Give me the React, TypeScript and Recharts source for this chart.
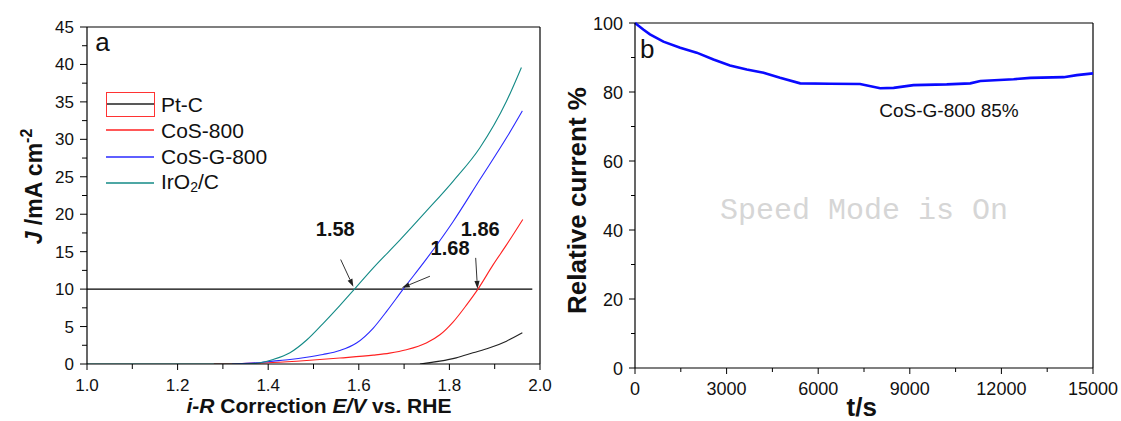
import React from "react";
import { LineChart, Line, XAxis, YAxis, ReferenceLine, ReferenceDot, Legend } from "recharts";

// panel a: LSV curves, potential (V vs RHE) and current density (mA cm-2)
const ptcE = [1.735, 1.779, 1.815, 1.852, 1.889, 1.926, 1.961];
const ptcJ = [0, 0.38, 0.82, 1.49, 2.16, 3.05, 4.16];

const cos800E = [1.28, 1.34, 1.41, 1.485, 1.558, 1.632, 1.668, 1.705, 1.749, 1.779, 1.808, 1.838, 1.863, 1.896, 1.926, 1.962];
const cos800J = [0.02, 0.06, 0.2, 0.47, 0.8, 1.18, 1.45, 1.9, 2.8, 3.9, 5.6, 7.9, 10.0, 13.2, 15.9, 19.3];

const cosG800E = [1.32, 1.374, 1.411, 1.448, 1.485, 1.521, 1.558, 1.595, 1.632, 1.661, 1.698, 1.749, 1.808, 1.867, 1.926, 1.961];
const cosG800J = [0, 0.16, 0.38, 0.6, 0.9, 1.27, 1.8, 2.8, 4.8, 7.0, 10.0, 14.0, 19.0, 24.6, 30.2, 33.8];

const iroE = [1.0, 1.35, 1.382, 1.411, 1.448, 1.485, 1.521, 1.558, 1.591, 1.632, 1.69, 1.749, 1.808, 1.867, 1.926, 1.959];
const iroJ = [0, 0, 0.16, 0.6, 1.5, 3.2, 5.4, 7.8, 10.04, 12.84, 16.5, 20.4, 24.4, 28.85, 35.08, 39.6];

const seriesNames = ["Pt-C", "CoS-800", "CoS-G-800", "IrO2/C"];

// onset markers at 10 mA cm-2
const markerText = ["1.58", "1.68", "1.86"];
const markerTextE = [1.548, 1.8015, 1.868];
const markerTextJ = [17.15, 14.61, 17.15];
const arrowFromE = [1.56, 1.757, 1.858];
const arrowFromJ = [13.95, 11.72, 14.17];
const arrowToE = [1.588, 1.695, 1.862];
const arrowToJ = [10.3, 10.17, 10.04];
const refJ = 10;
const refEndE = 1.983;

const lsvTicksE = [1.0, 1.1, 1.2, 1.3, 1.4, 1.5, 1.6, 1.7, 1.8, 1.9, 2.0];
const lsvTicksJ = [0, 2.5, 5, 7.5, 10, 12.5, 15, 17.5, 20, 22.5, 25, 27.5, 30, 32.5, 35, 37.5, 40, 42.5, 45];

// panel b: chronoamperometry
const timeS = [0, 270, 490, 930, 1480, 2020, 2570, 3110, 3660, 4210, 4750, 5410, 6390, 7370, 8030, 8470, 9120, 10210, 10980, 11310, 12400, 12950, 14040, 14470, 15000];
const relCurrent = [100, 98.1, 96.7, 94.6, 92.8, 91.4, 89.4, 87.7, 86.5, 85.6, 84.1, 82.5, 82.4, 82.3, 81.1, 81.2, 82.0, 82.2, 82.5, 83.2, 83.7, 84.1, 84.3, 84.9, 85.4];

const stabTicksT = [0, 1500, 3000, 4500, 6000, 7500, 9000, 10500, 12000, 13500, 15000];
const stabTicksR = [0, 10, 20, 30, 40, 50, 60, 70, 80, 90, 100];

const toPoints = (e: number[], j: number[]) => e.map((v, i) => ({ e: v, j: j[i] }));
const stabData = timeS.map((t, i) => ({ t, r: relCurrent[i] }));

const TXT = "#111";

const LsvXTick = (p: any) => {
  const v = p.payload.value;
  const major = Math.round(v * 10) % 2 === 0;
  return (
    <g>
      <line x1={p.x} y1={p.y} x2={p.x} y2={p.y + (major ? 6 : 5)} stroke="#000" />
      {major && (
        <text x={p.x} y={p.y + 27} textAnchor="middle" fontSize={17} fill={TXT}>
          {v.toFixed(1)}
        </text>
      )}
    </g>
  );
};

const LsvYTick = (p: any) => {
  const v = p.payload.value;
  const major = v % 5 === 0;
  return (
    <g>
      <line x1={p.x} y1={p.y} x2={p.x - (major ? 7 : 5)} y2={p.y} stroke="#000" />
      {major && (
        <text x={p.x - 13} y={p.y + 6} textAnchor="end" fontSize={17} fill={TXT}>
          {v}
        </text>
      )}
    </g>
  );
};

const StabXTick = (p: any) => {
  const v = p.payload.value;
  const major = v % 3000 === 0;
  return (
    <g>
      <line x1={p.x} y1={p.y} x2={p.x} y2={p.y + (major ? 6 : 4)} stroke="#000" />
      {major && (
        <text x={p.x} y={p.y + 26.5} textAnchor="middle" fontSize={18} fill={TXT}>
          {v}
        </text>
      )}
    </g>
  );
};

const StabYTick = (p: any) => {
  const v = p.payload.value;
  const major = v % 20 === 0;
  return (
    <g>
      <line x1={p.x} y1={p.y} x2={p.x - (major ? 6 : 4)} y2={p.y} stroke="#000" />
      {major && (
        <text x={p.x - 12} y={p.y + 6.5} textAnchor="end" fontSize={18} fill={TXT}>
          {v}
        </text>
      )}
    </g>
  );
};

const Arrow = (p: any) => {
  const { x1, y1, x2, y2 } = p;
  const a = Math.atan2(y2 - y1, x2 - x1);
  const len = 8;
  const w = 2.6;
  const bx = x2 - len * Math.cos(a);
  const by = y2 - len * Math.sin(a);
  const px = -Math.sin(a) * w;
  const py = Math.cos(a) * w;
  return (
    <g>
      <line x1={x1} y1={y1} x2={bx} y2={by} stroke="#333" strokeWidth={1} />
      <polygon points={`${x2},${y2} ${bx + px},${by + py} ${bx - px},${by - py}`} fill="#222" />
    </g>
  );
};

const legendName = (name: string) =>
  name === "IrO2/C" ? (
    <>
      IrO<sub style={{ fontSize: 14, verticalAlign: "-3px" }}>2</sub>/C
    </>
  ) : (
    name
  );

const LsvLegend = (props: any) => {
  const items = [...(props.payload || [])].sort(
    (a: any, b: any) => seriesNames.indexOf(a.value) - seriesNames.indexOf(b.value)
  );
  return (
    <div style={{ position: "relative", fontSize: 21, color: TXT, fontFamily: '"Liberation Sans", Arial, sans-serif' }}>
      {items.map((entry: any) => (
        <div key={entry.value} style={{ display: "flex", alignItems: "center", height: 26.3 }}>
          <svg width={48} height={4} style={{ display: "block" }}>
            <line x1={0} y1={2} x2={48} y2={2} stroke={entry.color} strokeWidth={1.6} />
          </svg>
          <span style={{ marginLeft: 7, lineHeight: 1, whiteSpace: "nowrap" }}>{legendName(entry.value)}</span>
        </div>
      ))}
      <div
        style={{
          position: "absolute",
          left: -0.5,
          top: 1.4,
          width: 49.4,
          height: 24.3,
          border: "1.5px solid #f33",
          boxSizing: "border-box",
        }}
      />
    </div>
  );
};

function PanelA() {
  return (
    <LineChart width={560} height={421} margin={{ top: 27, right: 20, left: 0, bottom: 0 }}>
      <XAxis
        dataKey="e"
        type="number"
        domain={[1, 2]}
        ticks={lsvTicksE}
        interval={0}
        height={57}
        tickSize={0}
        tickMargin={0}
        tickLine={false}
        axisLine={{ stroke: "#000", strokeWidth: 1.2 }}
        tick={(p: any) => <LsvXTick {...p} />}
        allowDataOverflow
        label={{
          content: (lp: any) => {
            const vb = lp.viewBox;
            return (
              <text x={vb.x + 232} y={vb.y + 49} textAnchor="middle" fontSize={21} fontWeight="bold" fill={TXT}>
                <tspan fontStyle="italic">i-R</tspan> Correction <tspan fontStyle="italic">E/V</tspan> vs. RHE
              </text>
            );
          },
        }}
      />
      <YAxis
        type="number"
        domain={[0, 45]}
        ticks={lsvTicksJ}
        interval={0}
        width={87}
        tickSize={0}
        tickMargin={0}
        tickLine={false}
        axisLine={{ stroke: "#000", strokeWidth: 1.2 }}
        tick={(p: any) => <LsvYTick {...p} />}
        allowDataOverflow
        label={{
          content: (lp: any) => {
            const vb = lp.viewBox;
            const cx = vb.x + 41.7;
            const cy = vb.y + vb.height / 2 - 9;
            return (
              <text
                x={cx}
                y={cy}
                transform={`rotate(-90 ${cx} ${cy})`}
                textAnchor="middle"
                fontSize={23}
                fontWeight="bold"
                fill={TXT}
              >
                <tspan fontStyle="italic">J</tspan> /mA cm
                <tspan fontSize={16} dy={-10}>-2</tspan>
              </text>
            );
          },
        }}
      />
      <ReferenceLine y={45} stroke="#000" strokeWidth={1.2} />
      <ReferenceLine x={2} stroke="#000" strokeWidth={1.2} />
      <ReferenceLine
        segment={[
          { x: 1, y: refJ },
          { x: refEndE, y: refJ },
        ]}
        stroke="#000"
        strokeWidth={1.2}
      />
      <Line data={toPoints(ptcE, ptcJ)} dataKey="j" name={seriesNames[0]} type="monotone" stroke="#222" strokeWidth={1.1} dot={false} isAnimationActive={false} />
      <Line data={toPoints(cos800E, cos800J)} dataKey="j" name={seriesNames[1]} type="monotone" stroke="#ff2020" strokeWidth={1.1} dot={false} isAnimationActive={false} />
      <Line data={toPoints(cosG800E, cosG800J)} dataKey="j" name={seriesNames[2]} type="monotone" stroke="#2a2aff" strokeWidth={1.1} dot={false} isAnimationActive={false} />
      <Line data={toPoints(iroE, iroJ)} dataKey="j" name={seriesNames[3]} type="monotone" stroke="#138a86" strokeWidth={1.1} dot={false} isAnimationActive={false} />
      {markerText.map((_, i) => (
        <ReferenceLine
          key={"arrow" + i}
          segment={[
            { x: arrowFromE[i], y: arrowFromJ[i] },
            { x: arrowToE[i], y: arrowToJ[i] },
          ]}
          shape={(p: any) => <Arrow {...p} />}
        />
      ))}
      {markerText.map((t, i) => (
        <ReferenceDot
          key={"lbl" + i}
          x={markerTextE[i]}
          y={markerTextJ[i]}
          r={0}
          shape={(p: any) => (
            <text x={p.cx} y={p.cy} textAnchor="middle" fontSize={20} fontWeight="bold" fill={TXT}>
              {t}
            </text>
          )}
        />
      ))}
      <ReferenceDot
        x={1}
        y={45}
        r={0}
        shape={(p: any) => (
          <text x={p.cx + 8.3} y={p.cy + 24.4} fontSize={26} fill={TXT}>
            a
          </text>
        )}
      />
      <Legend
        layout="vertical"
        align="center"
        verticalAlign="middle"
        content={(p: any) => <LsvLegend {...p} />}
        wrapperStyle={{ left: 106, top: 90.9, width: 220, height: "auto" }}
      />
    </LineChart>
  );
}

function PanelB() {
  return (
    <LineChart width={561} height={421} margin={{ top: 23, right: 28, left: 0, bottom: 0 }}>
      <XAxis
        dataKey="t"
        type="number"
        domain={[0, 15000]}
        ticks={stabTicksT}
        interval={0}
        height={53}
        tickSize={0}
        tickMargin={0}
        tickLine={false}
        axisLine={{ stroke: "#000", strokeWidth: 1.2 }}
        tick={(p: any) => <StabXTick {...p} />}
        label={{
          content: (lp: any) => {
            const vb = lp.viewBox;
            return (
              <text x={vb.x + 226.7} y={vb.y + 47.5} textAnchor="middle" fontSize={26} fontWeight="bold" fill={TXT}>
                t/s
              </text>
            );
          },
        }}
      />
      <YAxis
        type="number"
        domain={[0, 100]}
        ticks={stabTicksR}
        interval={0}
        width={75}
        tickSize={0}
        tickMargin={0}
        tickLine={false}
        axisLine={{ stroke: "#000", strokeWidth: 1.2 }}
        tick={(p: any) => <StabYTick {...p} />}
        label={{
          content: (lp: any) => {
            const vb = lp.viewBox;
            const cx = vb.x + 26.3;
            const cy = 200.5;
            return (
              <text
                x={cx}
                y={cy}
                transform={`rotate(-90 ${cx} ${cy})`}
                textAnchor="middle"
                fontSize={26}
                fontWeight="bold"
                fill={TXT}
              >
                Relative current %
              </text>
            );
          },
        }}
      />
      <ReferenceLine y={100} stroke="#000" strokeWidth={1.2} />
      <ReferenceLine x={15000} stroke="#000" strokeWidth={1.2} />
      <ReferenceDot
        x={7500}
        y={43.2}
        r={0}
        shape={(p: any) => (
          <text
            x={p.cx}
            y={p.cy}
            textAnchor="middle"
            fontSize={30}
            fill="#d6d6d6"
            fontFamily='"Liberation Mono", "Courier New", monospace'
          >
            Speed Mode is On
          </text>
        )}
      />
      <Line data={stabData} dataKey="r" name="CoS-G-800" type="linear" stroke="#0a0aff" strokeWidth={2.6} dot={false} isAnimationActive={false} />
      <ReferenceDot
        x={8000}
        y={72.8}
        r={0}
        shape={(p: any) => (
          <text x={p.cx} y={p.cy} fontSize={19} fill={TXT}>
            CoS-G-800 85%
          </text>
        )}
      />
      <ReferenceDot
        x={0}
        y={100}
        r={0}
        shape={(p: any) => (
          <text x={p.cx + 5} y={p.cy + 35} fontSize={26} fill={TXT}>
            b
          </text>
        )}
      />
    </LineChart>
  );
}

export default function App() {
  return (
    <div
      style={{
        position: "absolute",
        left: 0,
        top: 0,
        width: 1121,
        height: 421,
        background: "#fff",
        fontFamily: '"Liberation Sans", Arial, sans-serif',
      }}
    >
      <div style={{ position: "absolute", left: 0, top: 0 }}>
        <PanelA />
      </div>
      <div style={{ position: "absolute", left: 560, top: 0 }}>
        <PanelB />
      </div>
    </div>
  );
}
